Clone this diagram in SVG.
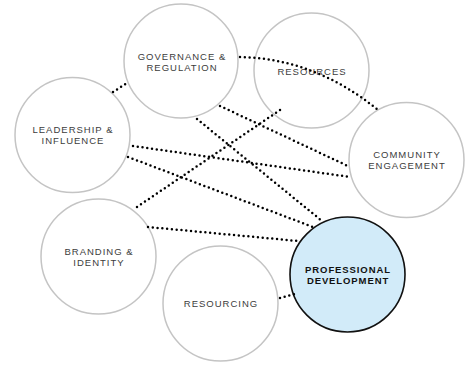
<svg xmlns="http://www.w3.org/2000/svg" width="473" height="365" viewBox="0 0 473 365">
<style>
.c{fill:#fff;stroke:#c4c4c4;stroke-width:1.5}
.pd{fill:#d2ebf9;stroke:#111;stroke-width:1.6}
.d{fill:none;stroke:#000;stroke-width:2.5;stroke-linecap:round;stroke-dasharray:0 4.8}
.t{font-family:"Liberation Sans",Arial,sans-serif;font-size:9.5px;letter-spacing:1px;fill:#3c3c3c;text-anchor:middle}
.tb{font-family:"Liberation Sans",Arial,sans-serif;font-size:9.5px;letter-spacing:0.9px;font-weight:bold;fill:#111;text-anchor:middle}
</style>
<rect width="473" height="365" fill="#fff"/>
<g id="governance"><circle class="c" cx="181" cy="61" r="57"/><text class="t" x="182" y="60">GOVERNANCE &amp;</text><text class="t" x="182" y="71">REGULATION</text></g>
<g id="resources"><circle class="c" cx="311.5" cy="70.5" r="57.5"/><text class="t" x="312" y="75">RESOURCES</text></g>
<g id="community"><circle class="c" cx="406.5" cy="160" r="57.5"/><text class="t" x="407" y="158">COMMUNITY</text><text class="t" x="407" y="169">ENGAGEMENT</text></g>
<g id="leadership"><circle class="c" cx="72.5" cy="135" r="57.5"/><text class="t" x="73" y="133">LEADERSHIP &amp;</text><text class="t" x="73" y="144">INFLUENCE</text></g>
<g id="branding"><circle class="c" cx="98.5" cy="256.5" r="57.5"/><text class="t" x="99" y="255">BRANDING &amp;</text><text class="t" x="99" y="266">IDENTITY</text></g>
<g id="resourcing"><circle class="c" cx="220.5" cy="303.5" r="57.5"/><text class="t" x="221" y="307">RESOURCING</text></g>
<g id="professional-development"><circle class="pd" cx="347.5" cy="274.5" r="57.5"/><text class="tb" x="348" y="273">PROFESSIONAL</text><text class="tb" x="348" y="284">DEVELOPMENT</text></g>
<g id="connectors">
<path class="d" d="M113 92 L127 83"/>
<path class="d" d="M240 57 Q315 58.5 378 110"/>
<path class="d" d="M197 119 L322 221"/>
<path class="d" d="M220 106 L350 167"/>
<path class="d" d="M133 146 L350 177"/>
<path class="d" d="M128 157 L313 227"/>
<path class="d" d="M137 207 L283 108"/>
<path class="d" d="M148 227 L298 241"/>
<path class="d" d="M280 298 L295 294"/>
</g>
</svg>
